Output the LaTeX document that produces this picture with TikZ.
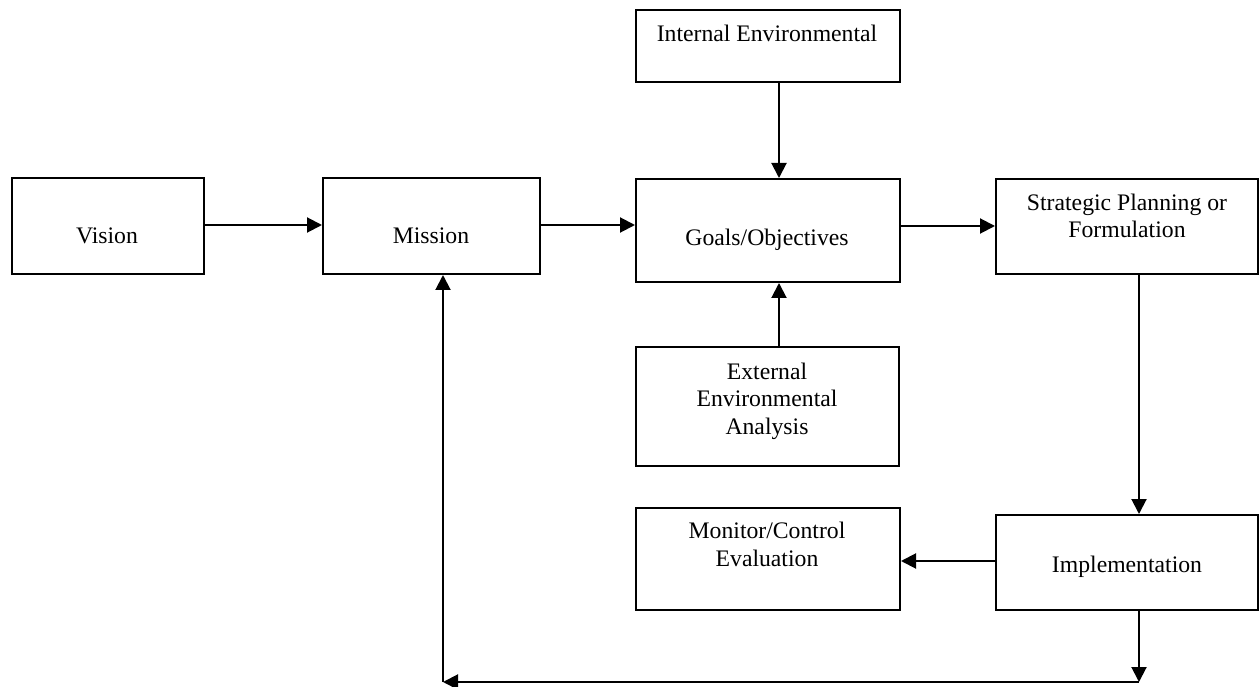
\documentclass[tikz,border=0pt]{standalone}
\usepackage{fontspec}
\setmainfont{Liberation Serif}
\usetikzlibrary{arrows.meta}
\tikzset{
  box/.style={draw, line width=2pt, inner sep=0pt, anchor=north west},
  txt/.style={inner sep=0pt, anchor=base, align=center, font=\fontsize{23.7}{27.5}\selectfont},
  arr/.style={line width=2pt, -{Triangle[length=15pt,width=15pt]}},
}
\begin{document}
\begin{tikzpicture}[x=1pt,y=-1pt]
\useasboundingbox (0,0) rectangle (1259,687);
% boxes
\node[box, minimum width=192, minimum height=96] (vis) at (11,177) {};
\node[box, minimum width=217, minimum height=96] (mis) at (322,177) {};
\node[box, minimum width=264, minimum height=103] (goal) at (635,178) {};
\node[box, minimum width=264, minimum height=72] (int) at (635,9) {};
\node[box, minimum width=262, minimum height=95] (str) at (995,178) {};
\node[box, minimum width=263, minimum height=119] (ext) at (635,346) {};
\node[box, minimum width=264, minimum height=102] (mon) at (635,507) {};
\node[box, minimum width=262, minimum height=95] (imp) at (995,514) {};
% texts (anchor = baseline of last line)
\node[txt] (visT) at (107,244) {Vision};
\node[txt] (misT) at (431,244) {Mission};
\node[txt] (goalT) at (767,246) {Goals/Objectives};
\node[txt] (intT) at (767,42) {Internal Environmental};
\node[txt] (strT) at (1127,238) {Strategic Planning or\\Formulation};
\node[txt] (extT) at (767,434) {External\\Environmental\\Analysis};
\node[txt] (monT) at (767,566) {Monitor/Control\\Evaluation};
\node[txt] (impT) at (1127,572) {Implementation};
% helper coordinates
\coordinate (cx1) at (779,0);
\coordinate (cx2) at (1139,0);
\coordinate (cx3) at (443,0);
\coordinate (bR) at (1139,682);
\coordinate (bL) at (443,682);
\coordinate (y1) at (0,225);
\coordinate (y2) at (0,226);
\coordinate (y3) at (0,561);
% connectors
\draw[arr] (vis.east |- y1) -- (mis.west |- y1);
\draw[arr] (mis.east |- y1) -- (goal.west |- y1);
\draw[arr] (goal.east |- y2) -- (str.west |- y2);
\draw[arr] (int.south -| cx1) -- (goal.north -| cx1);
\draw[arr] (ext.north -| cx1) -- (goal.south -| cx1);
\draw[arr] (str.south -| cx2) -- (imp.north -| cx2);
\draw[arr] (imp.west |- y3) -- (mon.east |- y3);
\draw[arr] (imp.south -| cx2) -- (bR);
\draw[arr] (bR) -- (bL);
\draw[arr] (bL) -- (mis.south -| cx3);
\end{tikzpicture}
\end{document}
